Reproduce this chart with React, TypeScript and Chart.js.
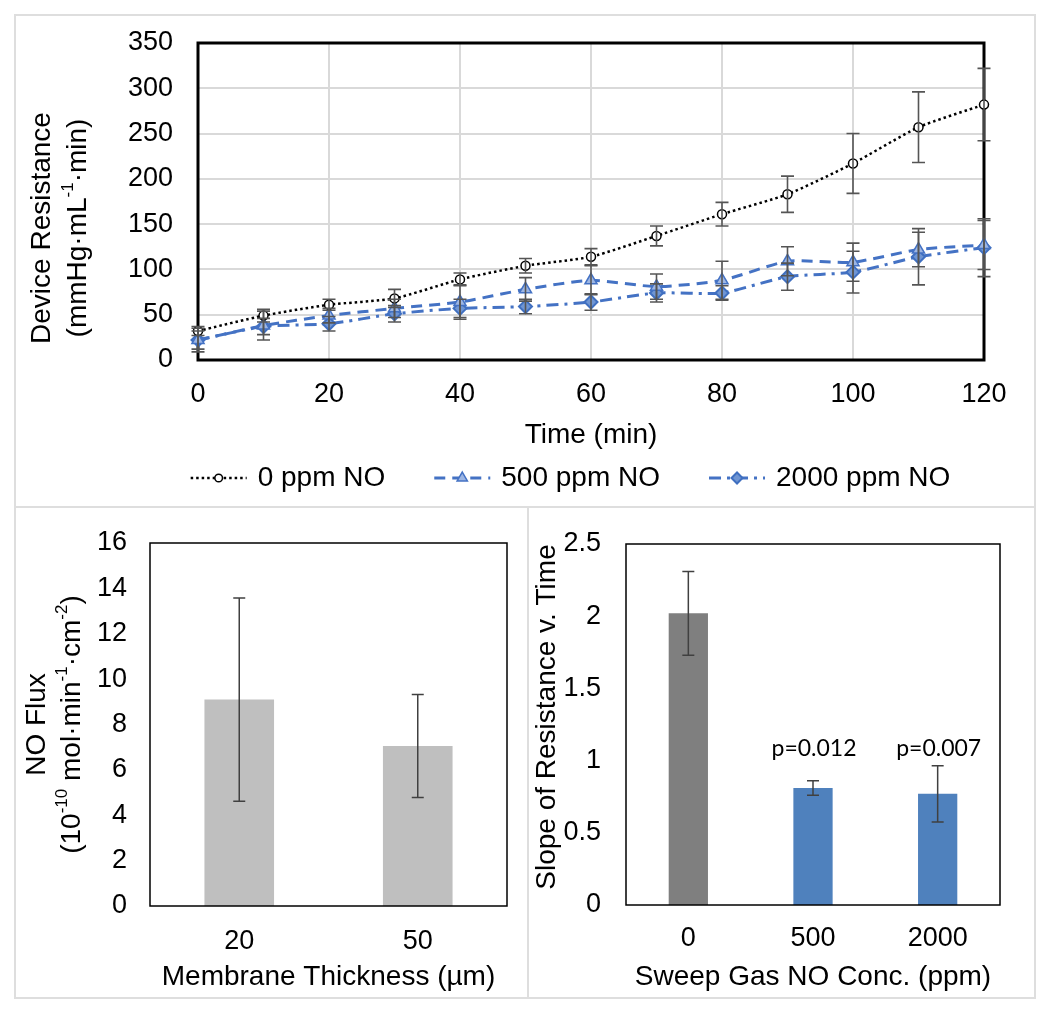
import React, { useEffect, useRef } from 'react';
import { Chart, registerables } from 'chart.js';

Chart.register(...registerables);

// ---------- DATA ----------
const times = [0, 10, 20, 30, 40, 50, 60, 70, 80, 90, 100, 110, 120];
const seriesNames = ['0 ppm NO', '500 ppm NO', '2000 ppm NO'];
const res0 = [32, 49, 61, 68, 89, 104, 114, 137, 161, 183, 217, 257, 282];
const err0 = [5, 7, 6, 10, 7, 8, 9, 11, 13, 20, 33, 39, 40];
const res500 = [22, 38, 49, 57, 64, 78, 88, 81, 88, 109, 108, 122, 127];
const err500 = [10, 16, 8, 10, 19, 13, 16, 14, 21, 16, 21, 19, 27];
const res2000 = [22, 37, 40, 51, 57, 59, 64, 74, 74, 92, 97, 114, 124];
const err2000 = [13, 9, 8, 9, 10, 8, 9, 10, 8, 15, 23, 31, 32];

const thicknessLabels = ['20', '50'];
const fluxValues = [9.1, 7.05];
const fluxErrors = [4.48, 2.27];

const concLabels = ['0', '500', '2000'];
const slopeValues = [2.02, 0.81, 0.77];
const slopeErrors = [0.29, 0.05, 0.195];
const pValueLabels = ['', 'p=0.012', 'p=0.007'];

// ---------- STYLE ----------
const FONT = '"Liberation Sans", Arial, Helvetica, sans-serif';
Chart.defaults.font.family = FONT;
Chart.defaults.color = '#000';

type Seg = { t: string; sup?: boolean };

const plainTick = (v: any) => String(Math.round(Number(v) * 1000) / 1000);

function drawMarker(ctx: CanvasRenderingContext2D, style: string, x: number, y: number, r: number, fill: string, stroke: string, bw: number) {
  ctx.save();
  ctx.setLineDash([]);
  ctx.beginPath();
  if (style === 'circle') {
    ctx.arc(x, y, r, 0, Math.PI * 2);
  } else if (style === 'triangle') {
    ctx.moveTo(x, y - r);
    ctx.lineTo(x + r * 0.866, y + r / 2);
    ctx.lineTo(x - r * 0.866, y + r / 2);
    ctx.closePath();
  } else {
    ctx.moveTo(x - r, y);
    ctx.lineTo(x, y - r);
    ctx.lineTo(x + r, y);
    ctx.lineTo(x, y + r);
    ctx.closePath();
  }
  ctx.fillStyle = fill;
  ctx.fill();
  ctx.lineWidth = bw;
  ctx.strokeStyle = stroke;
  ctx.stroke();
  ctx.restore();
}

function framePlugin(width: number, before: boolean) {
  const draw = (chart: any) => {
    const { ctx, chartArea: a } = chart;
    ctx.save();
    ctx.strokeStyle = '#000';
    ctx.lineWidth = width;
    ctx.setLineDash([]);
    ctx.strokeRect(a.left, a.top, a.right - a.left, a.bottom - a.top);
    ctx.restore();
  };
  return before
    ? { id: 'frame', beforeDatasetsDraw: draw }
    : { id: 'frame', afterDatasetsDraw: draw };
}

function errorBarPlugin(color: string, lineWidth: number, capHalf: number) {
  return {
    id: 'errorBars',
    afterDatasetsDraw(chart: any) {
      const { ctx } = chart;
      const yScale = chart.scales.y;
      ctx.save();
      ctx.strokeStyle = color;
      ctx.lineWidth = lineWidth;
      ctx.setLineDash([]);
      chart.data.datasets.forEach((ds: any, di: number) => {
        const errs = ds.errors;
        if (!errs) return;
        const meta = chart.getDatasetMeta(di);
        meta.data.forEach((el: any, i: number) => {
          const raw = ds.data[i];
          const v = typeof raw === 'number' ? raw : raw.y;
          const e = errs[i];
          const x = el.x;
          const yt = yScale.getPixelForValue(v + e);
          const yb = yScale.getPixelForValue(v - e);
          ctx.beginPath();
          ctx.moveTo(x, yt);
          ctx.lineTo(x, yb);
          ctx.moveTo(x - capHalf, yt);
          ctx.lineTo(x + capHalf, yt);
          ctx.moveTo(x - capHalf, yb);
          ctx.lineTo(x + capHalf, yb);
          ctx.stroke();
        });
      });
      ctx.restore();
    },
  };
}

function yTitlePlugin(lines: Seg[][], xs: number[], size: number, offsetY: number) {
  return {
    id: 'yTitleRich',
    afterDraw(chart: any) {
      const { ctx, chartArea } = chart;
      const cy = (chartArea.top + chartArea.bottom) / 2 + offsetY;
      ctx.save();
      ctx.fillStyle = '#000';
      ctx.textBaseline = 'middle';
      ctx.textAlign = 'left';
      lines.forEach((segs, li) => {
        const fontOf = (s: Seg) => `${s.sup ? Math.round(size * 0.6) : size}px ${FONT}`;
        let total = 0;
        const widths = segs.map((s) => {
          ctx.font = fontOf(s);
          const w = ctx.measureText(s.t).width;
          total += w;
          return w;
        });
        ctx.save();
        ctx.translate(xs[li], cy);
        ctx.rotate(-Math.PI / 2);
        let cx = -total / 2;
        segs.forEach((s, j) => {
          ctx.font = fontOf(s);
          ctx.fillText(s.t, cx, s.sup ? -size * 0.36 : 0);
          cx += widths[j];
        });
        ctx.restore();
      });
      ctx.restore();
    },
  };
}

const seriesLegendPlugin = {
  id: 'seriesLegend',
  afterDraw(chart: any) {
    const { ctx, chartArea } = chart;
    const sampleW = 56;
    const gap = 11;
    const spacing = 49;
    ctx.save();
    ctx.font = `28px ${FONT}`;
    const items = chart.data.datasets.map((ds: any) => ({ ds, w: ctx.measureText(ds.label).width }));
    const total = items.reduce((s: number, it: any) => s + sampleW + gap + it.w, 0) + spacing * (items.length - 1);
    let x = (chartArea.left + chartArea.right) / 2 - 20.5 - total / 2;
    const y = chartArea.bottom + 118;
    items.forEach(({ ds, w }: any) => {
      ctx.save();
      ctx.strokeStyle = ds.borderColor;
      ctx.lineWidth = ds.borderWidth;
      ctx.setLineDash(ds.borderDash || []);
      ctx.beginPath();
      ctx.moveTo(x, y);
      ctx.lineTo(x + sampleW, y);
      ctx.stroke();
      ctx.restore();
      drawMarker(ctx, ds.pointStyle, x + sampleW / 2, y, ds.pointRadius * 0.85, ds.pointBackgroundColor, ds.pointBorderColor, ds.pointBorderWidth);
      ctx.fillStyle = '#000';
      ctx.textAlign = 'left';
      ctx.textBaseline = 'middle';
      ctx.font = `28px ${FONT}`;
      ctx.fillText(ds.label, x + sampleW + gap, y);
      x += sampleW + gap + w + spacing;
    });
    ctx.restore();
  },
};

const pLabelPlugin = {
  id: 'pLabels',
  afterDatasetsDraw(chart: any) {
    const { ctx } = chart;
    const meta = chart.getDatasetMeta(0);
    const y = chart.scales.y.getPixelForValue(1.03);
    ctx.save();
    ctx.fillStyle = '#000';
    ctx.font = '23px Lato, "Open Sans", sans-serif';
    ctx.textAlign = 'center';
    ctx.textBaseline = 'alphabetic';
    pValueLabels.forEach((t, i) => {
      if (t) ctx.fillText(t, meta.data[i].x + 1, y);
    });
    ctx.restore();
  },
};

const fixY = (w: number) => (s: any) => {
  s.width = w;
  s.paddingTop = 0;
  s.paddingBottom = 0;
};

// ---------- CONFIGS ----------
function topConfig(): any {
  const pts = (vals: number[]) => times.map((t, i) => ({ x: t, y: vals[i] }));
  const blue = '#4472C4';
  return {
    type: 'line',
    data: {
      datasets: [
        {
          label: seriesNames[0], data: pts(res0), errors: err0,
          borderColor: '#000', borderWidth: 2.5, borderDash: [2.5, 3],
          pointStyle: 'circle', pointRadius: 4.5, pointBorderWidth: 1.5,
          pointBorderColor: '#000', pointBackgroundColor: '#fff', tension: 0.2, clip: false,
        },
        {
          label: seriesNames[1], data: pts(res500), errors: err500,
          borderColor: blue, borderWidth: 3, borderDash: [11, 7],
          pointStyle: 'triangle', pointRadius: 7, pointBorderWidth: 1.5,
          pointBorderColor: blue, pointBackgroundColor: '#9DB6E3', tension: 0.2, clip: false,
        },
        {
          label: seriesNames[2], data: pts(res2000), errors: err2000,
          borderColor: blue, borderWidth: 3, borderDash: [12, 6, 3, 6],
          pointStyle: 'rectRot', pointRadius: 6.5, pointBorderWidth: 2,
          pointBorderColor: '#3F6FC0', pointBackgroundColor: '#6F95D3', tension: 0.2, clip: false,
        },
      ],
    },
    options: {
      responsive: false,
      animation: false,
      layout: { padding: { top: 28, right: 50, left: 0, bottom: 0 } },
      plugins: { legend: { display: false }, tooltip: { enabled: false } },
      scales: {
        x: {
          type: 'linear', min: 0, max: 120,
          ticks: { stepSize: 20, padding: 18, font: { size: 27 }, color: '#000', callback: plainTick },
          grid: { color: '#D9D9D9', lineWidth: 2, drawTicks: false },
          border: { display: false },
          title: { display: true, text: 'Time (min)', font: { size: 28 }, color: '#000', padding: { top: 0, bottom: 54 } },
          afterFit: (s: any) => { s.height = 146; },
        },
        y: {
          min: 0, max: 350,
          ticks: { stepSize: 50, padding: 25, font: { size: 27 }, color: '#000', callback: plainTick },
          grid: { color: '#D9D9D9', lineWidth: 2, drawTicks: false },
          border: { display: false },
          afterFit: fixY(183),
        },
      },
    },
    plugins: [
      framePlugin(3, true),
      errorBarPlugin('#555555', 1.6, 6.5),
      seriesLegendPlugin,
      yTitlePlugin(
        [[{ t: 'Device Resistance' }], [{ t: '(mmHg·mL' }, { t: '-1', sup: true }, { t: '·min)' }]],
        [27, 63], 28, 26.5,
      ),
    ],
  };
}

function fluxConfig(): any {
  return {
    type: 'bar',
    data: {
      labels: thicknessLabels,
      datasets: [{ data: fluxValues, errors: fluxErrors, backgroundColor: '#BFBFBF', barPercentage: 0.39, categoryPercentage: 1 }],
    },
    options: {
      responsive: false,
      animation: false,
      layout: { padding: { top: 36, right: 19, left: 0, bottom: 0 } },
      plugins: { legend: { display: false }, tooltip: { enabled: false } },
      scales: {
        x: {
          grid: { display: false, drawTicks: false },
          border: { display: false },
          ticks: { padding: 19, font: { size: 27 }, color: '#000' },
          title: { display: true, text: 'Membrane Thickness (µm)', font: { size: 28 }, color: '#000', padding: { top: 0, bottom: 3 } },
          afterFit: (s: any) => { s.height = 91; },
        },
        y: {
          min: 0, max: 16,
          ticks: { stepSize: 2, padding: 23, font: { size: 27 }, color: '#000', callback: plainTick },
          grid: { display: false, drawTicks: false },
          border: { display: false },
          afterFit: fixY(135),
        },
      },
    },
    plugins: [
      framePlugin(1.5, false),
      errorBarPlugin('#404040', 1.5, 6),
      yTitlePlugin(
        [[{ t: 'NO Flux' }], [{ t: '(10' }, { t: '-10', sup: true }, { t: ' mol·min' }, { t: '-1', sup: true }, { t: '·cm' }, { t: '-2', sup: true }, { t: ')' }]],
        [22.5, 57], 28, 0,
      ),
    ],
  };
}

function slopeConfig(): any {
  return {
    type: 'bar',
    data: {
      labels: concLabels,
      datasets: [{ data: slopeValues, errors: slopeErrors, backgroundColor: ['#7F7F7F', '#4F81BD', '#4F81BD'], barPercentage: 0.315, categoryPercentage: 1 }],
    },
    options: {
      responsive: false,
      animation: false,
      layout: { padding: { top: 37, right: 33, left: 0, bottom: 0 } },
      plugins: { legend: { display: false }, tooltip: { enabled: false } },
      scales: {
        x: {
          grid: { display: false, drawTicks: false },
          border: { display: false },
          ticks: { padding: 17, font: { size: 27 }, color: '#000' },
          title: { display: true, text: 'Sweep Gas NO Conc. (ppm)', font: { size: 28 }, color: '#000', padding: { top: 0, bottom: 3 } },
          afterFit: (s: any) => { s.height = 92; },
        },
        y: {
          min: 0, max: 2.5,
          ticks: { stepSize: 0.5, padding: 25, font: { size: 27 }, color: '#000', callback: plainTick },
          grid: { display: false, drawTicks: false },
          border: { display: false },
          afterFit: fixY(98),
        },
      },
    },
    plugins: [
      framePlugin(1.5, false),
      errorBarPlugin('#404040', 1.5, 6),
      pLabelPlugin,
      yTitlePlugin([[{ t: 'Slope of Resistance v. Time' }]], [19], 28, -7.5),
    ],
  };
}

// ---------- COMPONENTS ----------
function ChartCanvas({ left, top, width, height, build }: { left: number; top: number; width: number; height: number; build: () => any }) {
  const ref = useRef<HTMLCanvasElement>(null);
  useEffect(() => {
    const chart = new Chart(ref.current as HTMLCanvasElement, build());
    return () => chart.destroy();
  }, []);
  return (
    <canvas
      ref={ref}
      width={width}
      height={height}
      style={{ position: 'absolute', left, top, width, height }}
    />
  );
}

function Panel({ left, top, width, height }: { left: number; top: number; width: number; height: number }) {
  return (
    <div
      style={{
        position: 'absolute', left, top, width, height,
        boxSizing: 'border-box', border: '2px solid #DEDEDE',
      }}
    />
  );
}

export default function App() {
  return (
    <div style={{ position: 'absolute', left: 0, top: 0, width: 1050, height: 1015, background: '#fff' }}>
      <Panel left={14} top={14} width={1022} height={494} />
      <Panel left={14} top={506} width={515} height={493} />
      <Panel left={527} top={506} width={509} height={493} />
      <ChartCanvas left={15} top={15} width={1019} height={491} build={topConfig} />
      <ChartCanvas left={15} top={507} width={511} height={490} build={fluxConfig} />
      <ChartCanvas left={528} top={507} width={505} height={490} build={slopeConfig} />
    </div>
  );
}
